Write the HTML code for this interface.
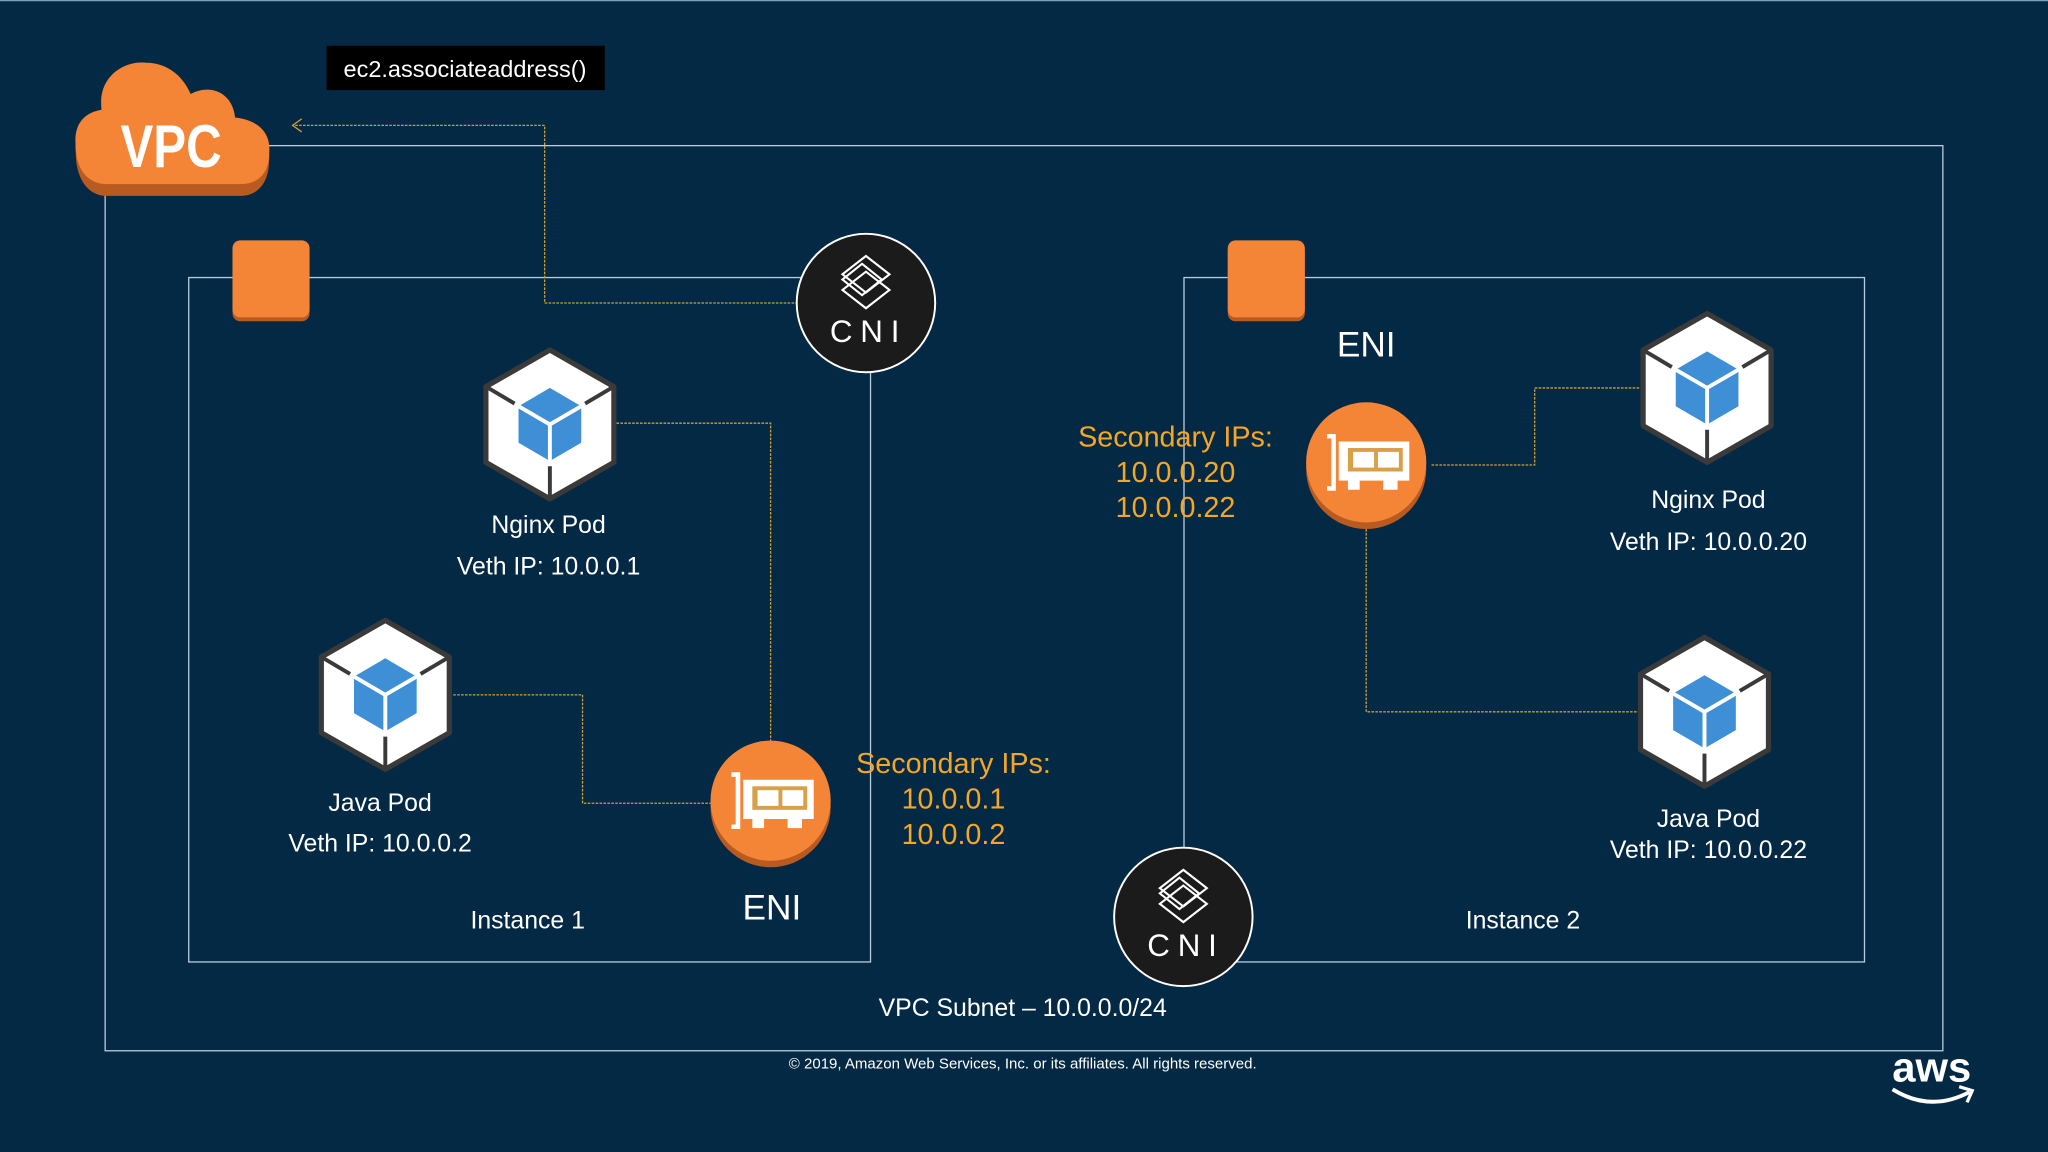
<!DOCTYPE html>
<html><head><meta charset="utf-8"><style>
html,body{margin:0;padding:0;background:#042944;}
svg{display:block}
text{font-family:"Liberation Sans","DejaVu Sans",sans-serif;}
</style></head><body>
<svg width="2048" height="1152" viewBox="0 0 1568 882" xmlns="http://www.w3.org/2000/svg">
<defs>
<g id="pod">
<polygon points="0,-57 49,-29 49,29 0,57 -49,29 -49,-29" fill="#fff" stroke="#3a3a3a" stroke-width="4" stroke-linejoin="round"/>
<polygon points="0,-28 24,-14 24,14 0,28 -24,14 -24,-14" fill="#3f8fd6"/>
<path d="M-24,-14 L0,0 L24,-14 M0,0 L0,28" stroke="#fff" stroke-width="3" fill="none"/>
<path d="M-49,-29 L-27,-16 M49,-29 L27,-16 M0,57 L0,32" stroke="#3a3a3a" stroke-width="3" fill="none"/>
</g>
<g id="cni">
<circle r="53" fill="#1b1b1b" stroke="#fff" stroke-width="1.5"/>
<g fill="none" stroke="#fff" stroke-width="1.6">
<polygon points="0,-36 18,-22 0,-8 -18,-22"/>
<polygon points="-3,-30 12,-18 -3,-6 -18,-18"/>
<polygon points="0,-24 18,-10 0,4 -18,-10"/>
</g>
<text x="2" y="30" fill="#fff" font-size="24" text-anchor="middle" letter-spacing="6">CNI</text>
</g>
<g id="eni">
<ellipse cx="0" cy="5" rx="46" ry="46" fill="#b95a20"/>
<ellipse cx="0" cy="0" rx="46" ry="46" fill="#f58536"/>
<path d="M-30,-20 h5 v40 h-5" fill="none" stroke="#fff" stroke-width="3.5"/>
<path d="M-21,-16 h54 v30 h-9 v7 h-11 v-7 h-18 v7 h-9 v-7 h-7 z" fill="#fff"/>
<rect x="-14" y="-11" width="42" height="18" fill="#d8a048"/>
<rect x="-10" y="-8" width="16" height="12" fill="#fff"/>
<rect x="9" y="-8" width="16" height="12" fill="#fff"/>
</g>
</defs>
<rect width="1568" height="882" fill="#042944"/>
<line x1="0" y1="0.5" x2="1568" y2="0.5" stroke="#7aa0c0" stroke-width="1"/>

<rect x="80.5" y="111.5" width="1407" height="693" fill="none" stroke="#b8cce0" stroke-width="1"/>
<rect x="144.5" y="212.5" width="522" height="524" fill="none" stroke="#b8cce0" stroke-width="1"/>
<rect x="906.5" y="212.5" width="521" height="524" fill="none" stroke="#b8cce0" stroke-width="1"/>

<g fill="none" stroke="#c9a13a" stroke-width="1" stroke-dasharray="2,1">
<path d="M611,232 H417 V96 H224"/>
<path d="M472,324 H590 V570"/>
<path d="M347,532 H446 V615 H545"/>
<path d="M1096,356 H1175 V297 H1255"/>
<path d="M1046,405 V545 H1255"/>
</g>
<path d="M231,91 L224,96 L231,101" fill="none" stroke="#c9a13a" stroke-width="1"/>

<g>
<path d="M58,112 C56,96 64,86 78,84 C74,62 92,46 112,48 C128,48 140,58 146,72 C160,64 178,70 180,90 C198,92 208,102 206,118 C206,134 198,145 184,145 L82,145 C66,145 58,130 58,112 Z" fill="#b95a20" transform="translate(0,5)"/>
<path d="M58,112 C56,96 64,86 78,84 C74,62 92,46 112,48 C128,48 140,58 146,72 C160,64 178,70 180,90 C198,92 208,102 206,118 C206,132 198,141 184,141 L82,141 C66,141 58,128 58,112 Z" fill="#f58536"/>
<text x="131" y="128" fill="#fff" font-size="46" font-weight="bold" text-anchor="middle" transform="translate(131,0) scale(0.82,1) translate(-131,0)">VPC</text>
</g>

<rect x="250" y="35" width="213" height="34" fill="#000"/>
<text x="356" y="59" fill="#fff" font-size="18" text-anchor="middle">ec2.associateaddress()</text>

<rect x="178" y="187" width="59" height="59" rx="6" fill="#b95a20"/>
<rect x="178" y="184" width="59" height="59" rx="6" fill="#f58536"/>
<rect x="940" y="187" width="59" height="59" rx="6" fill="#b95a20"/>
<rect x="940" y="184" width="59" height="59" rx="6" fill="#f58536"/>

<use href="#cni" x="663" y="232"/>
<use href="#cni" x="906" y="702"/>

<use href="#pod" x="421" y="325"/>
<use href="#pod" x="295" y="532"/>
<use href="#pod" x="1307" y="297"/>
<use href="#pod" x="1305" y="545"/>

<use href="#eni" x="590" y="613"/>
<use href="#eni" x="1046" y="354"/>

<g fill="#fff" text-anchor="middle" font-size="19">
<text x="420" y="408">Nginx Pod</text>
<text x="420" y="440">Veth IP: 10.0.0.1</text>
<text x="291" y="621">Java Pod</text>
<text x="291" y="652">Veth IP: 10.0.0.2</text>
<text x="404" y="711">Instance 1</text>
<text x="1308" y="389">Nginx Pod</text>
<text x="1308" y="421">Veth IP: 10.0.0.20</text>
<text x="1308" y="633">Java Pod</text>
<text x="1308" y="657">Veth IP: 10.0.0.22</text>
<text x="1166" y="711">Instance 2</text>
<text x="783" y="778">VPC Subnet – 10.0.0.0/24</text>
<text x="591" y="704" font-size="27">ENI</text>
<text x="1046" y="273" font-size="27">ENI</text>
<text x="783" y="818" font-size="11.5">© 2019, Amazon Web Services, Inc. or its affiliates. All rights reserved.</text>
</g>

<g fill="#f5a623" text-anchor="middle" font-size="22">
<text x="730" y="592">Secondary IPs:</text>
<text x="730" y="619">10.0.0.1</text>
<text x="730" y="646">10.0.0.2</text>
<text x="900" y="342">Secondary IPs:</text>
<text x="900" y="369">10.0.0.20</text>
<text x="900" y="396">10.0.0.22</text>
</g>

<text x="1479" y="828" fill="#fff" font-size="32" text-anchor="middle" font-weight="bold">aws</text>
<path d="M1449,834 Q1478,852 1508,836" fill="none" stroke="#fff" stroke-width="3"/>
<path d="M1500,832 L1510,835 L1506,844" fill="none" stroke="#fff" stroke-width="2.5"/>
</svg>
</body></html>
